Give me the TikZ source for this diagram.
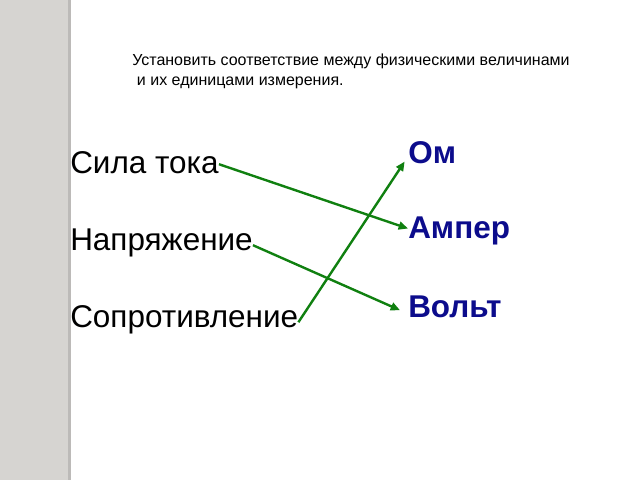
\documentclass[tikz,border=0pt]{standalone}
\usepackage{fontspec}
\setmainfont{Liberation Sans}
\usetikzlibrary{arrows.meta}

\definecolor{linkgreen}{RGB}{16,128,16}
\definecolor{unitblue}{RGB}{12,12,140}
\definecolor{stripgray}{RGB}{214,212,209}
\definecolor{stripedge}{RGB}{188,186,184}

\tikzset{
  quantity/.style={anchor=base west, inner sep=0pt, text height=0.72em, text depth=0pt,
    font=\fontsize{23.6}{28}\selectfont},
  unit/.style={anchor=base west, inner sep=0pt, text height=0.72em, text depth=0pt,
    font=\fontsize{23.6}{28}\selectfont\bfseries, text=unitblue},
  link/.style={line width=1.8pt, color=linkgreen, -{Triangle[length=7pt,width=6pt]}}
}

\begin{document}
\begin{tikzpicture}[x=0.75pt, y=-0.75pt]

	% Frame
	\useasboundingbox (0,0) rectangle (640,480);
	\fill[stripgray] (0,0) rectangle (68,480);
	\fill[stripedge] (68,0) rectangle (71,480);

	% Task
	\node (task) [anchor=base west, inner sep=0pt, align=left, font=\fontsize{12}{14.6}\selectfont]
	  at (132,85) {Установить соответствие между физическими величинами\\\hspace*{3.5pt}и их единицами измерения.};

	% Quantities
	\node (sila) [quantity] at (70,173) {Сила тока};
	\node (napr) [quantity] at (70,250) {Напряжение};
	\node (sopr) [quantity] at (70,327) {Сопротивление};

	% Units
	\node (om) [unit] at (408,163) {Ом};
	\node (amper) [unit] at (408,238) {Ампер};
	\node (volt) [unit] at (408,317) {Вольт};

	% Matches
	\draw[link] ([yshift=3pt]sila.east) -- ([yshift=3.5pt]amper.west);
	\draw[link] (napr.east) -- ([xshift=-6pt,yshift=1.5pt]volt.west);
	\draw[link] (sopr.east) -- ([xshift=-2.5pt,yshift=-2.5pt]om.west);

\end{tikzpicture}
\end{document}
